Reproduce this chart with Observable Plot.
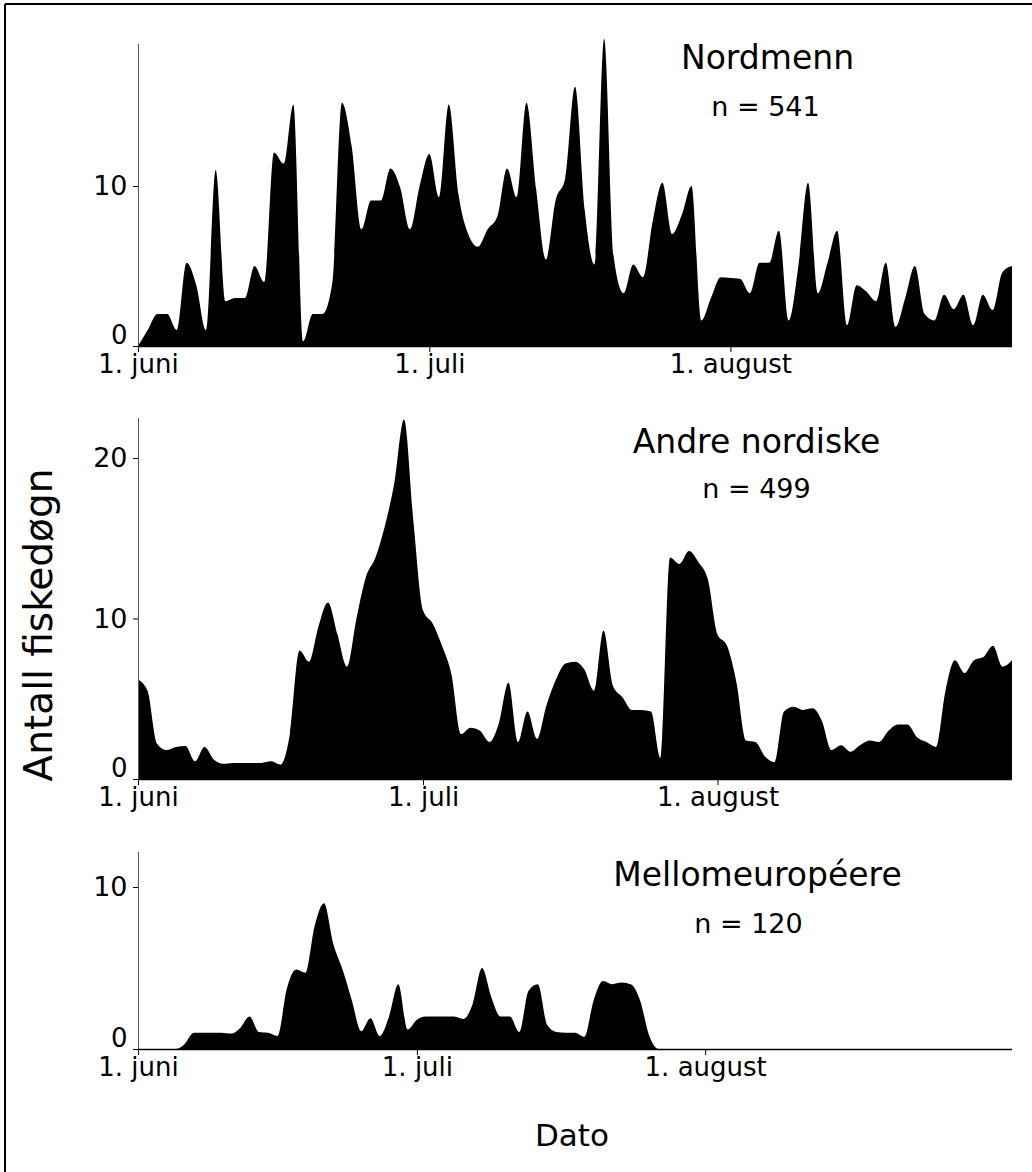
<!DOCTYPE html>
<html>
<head>
<meta charset="utf-8">
<script src="https://cdn.jsdelivr.net/npm/d3@7"></script>
<script src="https://cdn.jsdelivr.net/npm/@observablehq/plot@0.6"></script>
<style>
  html, body { margin: 0; padding: 0; background: white; }
  #wrap { position: relative; width: 1032px; height: 1172px; overflow: hidden; background: white; }
  #wrap > svg { position: absolute; left: 0; }
</style>
</head>
<body>
<div id="wrap"></div>
<script>
// ---- Data ----
const dayTicks = [0, 30, 61];                       // days after 1 June
const dayTickLabels = ["1. juni", "1. juli", "1. august"];
const groups = ["Nordmenn", "Andre nordiske", "Mellomeuropéere"];
const groupN = [541, 499, 120];
const yTicksA = [0, 10];
const yTicksB = [0, 10, 20];
const xAxisLabel = "Dato";
const yAxisLabel = "Antall fiskedøgn";

// daily values (fiskedøgn), day 0 = 1. juni
const nordmenn = [
  0, 1.0, 2.0, 2.0, 1.0, 5.2, 3.8, 1.0, 11.0, 2.8,
  3.0, 3.0, 5.0, 4.0, 12.1, 11.4, 15.1, 0.3, 2.0, 2.0,
  3.9, 15.2, 12.5, 7.3, 9.1, 9.1, 11.1, 9.9, 7.3, 10.0,
  12.0, 9.3, 15.1, 9.5, 7.0, 6.2, 7.3, 8.1, 11.1, 9.3,
  15.2, 9.8, 5.4, 9.1, 10.5, 16.2, 8.5, 5.1, 19.2, 5.5,
  3.3, 5.1, 4.3, 7.8, 10.2, 7.0, 8.2, 10.0, 1.6, 3.0,
  4.3, 4.25, 4.2, 3.3, 5.2, 5.2, 7.2, 1.6, 5.0, 10.2,
  3.3, 5.2, 7.2, 1.3, 3.8, 3.4, 2.8, 5.2, 1.2, 3.0,
  5.0, 2.0, 1.6, 3.2, 2.3, 3.2, 1.3, 3.2, 2.25, 4.6,
  5.0
];
const andreNordiske = [
  6.2, 5.5, 2.2, 1.8, 2.0, 2.05, 1.1, 2.0, 1.2, 0.95,
  1.0, 1.0, 1.0, 1.0, 1.1, 0.9, 2.85, 8.0, 7.3, 9.5,
  11.0, 9.0, 7.0, 10.0, 12.6, 13.8, 15.8, 18.5, 22.4, 16.0,
  10.5, 9.7, 8.3, 6.5, 2.8, 3.2, 3.0, 2.3, 3.5, 6.0,
  2.3, 4.2, 2.5, 4.6, 6.2, 7.2, 7.3, 6.8, 5.5, 9.25,
  5.8, 5.1, 4.3, 4.3, 4.2, 1.3, 13.8, 13.4, 14.2, 13.5,
  12.4, 9.0, 8.3, 6.0, 2.4, 2.3, 1.4, 1.05, 4.2, 4.5,
  4.3, 4.4, 3.6, 1.8, 2.1, 1.7, 2.1, 2.4, 2.3, 3.0,
  3.4, 3.4, 2.6, 2.3, 2.0, 5.5, 7.4, 6.6, 7.4, 7.6,
  8.3, 7.0, 7.4
];
const mellomeuropeere = [
  0, 0, 0, 0, 0, 0.3, 1.0, 1.0, 1.0, 1.0,
  0.95, 1.3, 2.0, 1.05, 1.0, 0.8, 3.7, 4.9, 4.7, 7.6,
  9.0, 6.5, 4.9, 3.0, 1.1, 1.9, 0.8, 2.0, 4.0, 1.2,
  1.8, 2.0, 2.0, 2.0, 2.0, 1.85, 2.8, 5.0, 3.2, 2.0,
  2.0, 1.05, 3.6, 4.0, 1.5, 1.05, 1.0, 1.0, 0.75, 3.0,
  4.2, 4.0, 4.1, 4.0, 3.0, 0.8, 0, 0, 0, 0,
  0, 0, 0, 0, 0, 0, 0, 0, 0, 0,
  0, 0, 0, 0, 0, 0, 0, 0, 0, 0,
  0, 0, 0, 0, 0, 0, 0, 0, 0, 0,
  0, 0
];

// ---- Layout ----
const FONT = "DejaVu Sans";
const layouts = [
  {top: 0,   marginTop: 44, frameH: 302, marginBottom: 45, ymax: 18.875, xEnd: 90, titleDx: 629, nDx: 627, titleDy: 24, nDy: 71},
  {top: 391, marginTop: 27, frameH: 361, marginBottom: 45, ymax: 22.49,  xEnd: 92, titleDx: 618, nDx: 618, titleDy: 34, nDy: 79},
  {top: 824, marginTop: 28, frameH: 197, marginBottom: 45, ymax: 12.16,  xEnd: 94, titleDx: 619, nDx: 610, titleDy: 33, nDy: 80}
];
const seriesList = [nordmenn, andreNordiske, mellomeuropeere];
const yTickList = [yTicksA, yTicksB, yTicksA];

const labelOf = new Map(dayTicks.map((d, i) => [d, dayTickLabels[i]]));

function panel(values, title, n, yTicks, L) {
  return Plot.plot({
    width: 1032,
    height: L.marginTop + L.frameH + L.marginBottom,
    marginLeft: 138, marginRight: 20, marginTop: L.marginTop, marginBottom: L.marginBottom,
    x: {type: "linear", domain: [0, L.xEnd]},
    y: {domain: [0, L.ymax]},
    style: {fontFamily: FONT, background: "transparent", color: "black", overflow: "visible"},
    marks: [
      Plot.areaY(values, {x: (d, i) => i, y: d => d, fill: "black", curve: "monotone-x"}),
      Plot.ruleX([0], {stroke: "#555", strokeWidth: 1}),
      Plot.ruleY([0], {stroke: "black", strokeWidth: 1.5}),
      Plot.axisX({ticks: dayTicks, tickFormat: d => labelOf.get(d), tickSize: 6, tickPadding: 2, fontSize: 26, label: null, stroke: "black"}),
      Plot.axisY({ticks: yTicks, tickSize: 5, tickFormat: () => "", label: null}),
      Plot.text(yTicks.filter(t => t !== 0), {y: d => d, text: d => String(d), frameAnchor: "left", textAnchor: "end", dx: -11, fontSize: 27}),
      Plot.text(yTicks.filter(t => t === 0), {y: d => d, text: d => String(d), frameAnchor: "left", textAnchor: "end", dx: -11, dy: -11, fontSize: 26}),
      Plot.text([title], {text: d => d, frameAnchor: "top-left", dx: L.titleDx, dy: L.titleDy, textAnchor: "middle", lineAnchor: "bottom", fontSize: 33}),
      Plot.text([n], {text: d => `n = ${d}`, frameAnchor: "top-left", dx: L.nDx, dy: L.nDy, textAnchor: "middle", lineAnchor: "bottom", fontSize: 27})
    ]
  });
}

const wrap = document.getElementById("wrap");
seriesList.forEach((vals, k) => {
  const svg = panel(vals, groups[k], groupN[k], yTickList[k], layouts[k]);
  svg.style.top = layouts[k].top + "px";
  wrap.appendChild(svg);
});

// overlay: frame lines and axis titles
const ov = d3.create("svg")
  .attr("width", 1032).attr("height", 1172)
  .style("top", "0px")
  .style("font-family", FONT);
ov.append("line").attr("x1", 5).attr("y1", 4).attr("x2", 1032).attr("y2", 4)
  .attr("stroke", "black").attr("stroke-width", 2);
ov.append("line").attr("x1", 5).attr("y1", 4).attr("x2", 5).attr("y2", 1172)
  .attr("stroke", "black").attr("stroke-width", 2);
ov.append("text").attr("transform", "translate(52,625) rotate(-90)")
  .attr("text-anchor", "middle").attr("font-size", 39).attr("fill", "black")
  .text(yAxisLabel);
ov.append("text").attr("x", 572).attr("y", 1146)
  .attr("text-anchor", "middle").attr("font-size", 31).attr("fill", "black")
  .text(xAxisLabel);
wrap.appendChild(ov.node());
</script>
</body>
</html>
